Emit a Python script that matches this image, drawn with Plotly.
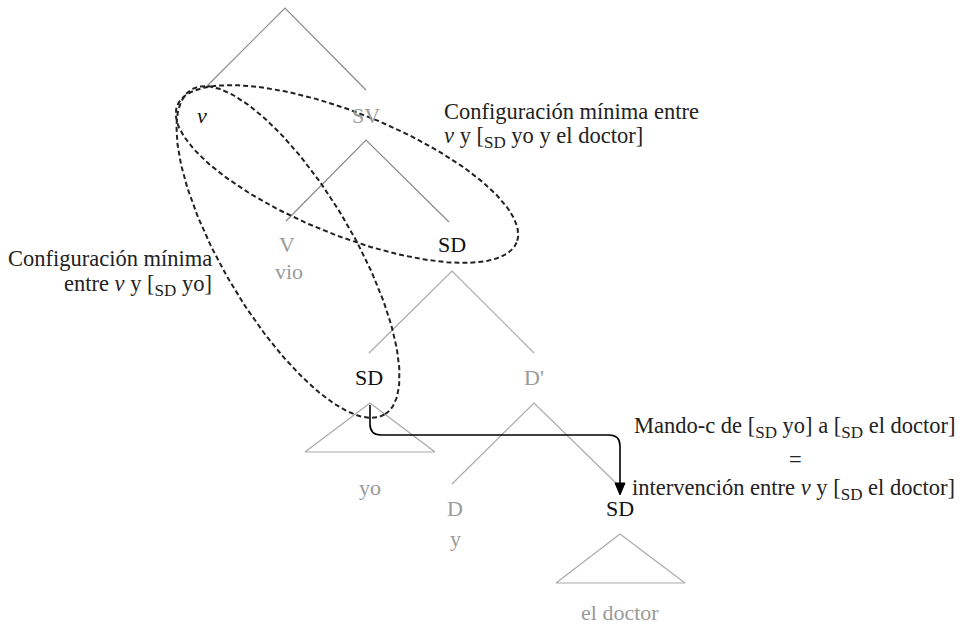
import numpy as np
import plotly.graph_objects as go

W, H = 968, 627
FONT = "Liberation Serif"
GRAY_TXT = "#9a9a9a"
BLACK = "#111111"

# ---- tree labels: text, x, y, colour-kind ----
label_text = ["<i>v</i>", "SV", "V", "vio", "SD", "SD", "D'", "yo", "D", "y", "SD", "el doctor"]
label_x = [202, 366, 287, 289, 452, 369, 534, 370, 455, 455, 620, 620]
label_y = [115, 115, 244, 271, 244, 377, 377, 487, 508, 538, 508, 612]
label_dark = [True, False, False, False, True, True, False, False, False, False, True, False]

# ---- branches: (apex, left leaf, right leaf) ----
branch_apex = [(285, 8), (366, 140), (452, 271), (534, 403)]
branch_left = [(206, 87), (286, 221), (369, 353), (452, 484)]
branch_right = [(366, 90), (449, 222), (534, 353), (617, 484)]
branch_col = ["#8a8a8a", "#8a8a8a", "#aaaaaa", "#aaaaaa"]

# ---- triangles (roofs): apex, base left, base right ----
tri_apex = [(370, 403), (620, 534)]
tri_bl = [(305, 452), (556, 583)]
tri_br = [(435, 452), (685, 583)]

# ---- dashed ellipses: centre x, centre y, semi-major, semi-minor, angle(deg) ----
ell_cx = [347, 288]
ell_cy = [174, 252]
ell_a = [183, 189]
ell_b = [61, 65]
ell_ang = [22, 59.3]

# ---- c-command arrow route ----
arrow_start = (370, 405)
arrow_corner_y = 435
arrow_end = (620, 495)

fig = go.Figure()

# branches
for ap, lf, rt, col in zip(branch_apex, branch_left, branch_right, branch_col):
    fig.add_trace(go.Scatter(x=[lf[0], ap[0], rt[0]], y=[lf[1], ap[1], rt[1]],
                             mode="lines", line=dict(color=col, width=1.2),
                             hoverinfo="skip", showlegend=False))
# triangles
for ap, bl, br in zip(tri_apex, tri_bl, tri_br):
    fig.add_trace(go.Scatter(x=[ap[0], bl[0], br[0], ap[0]], y=[ap[1], bl[1], br[1], ap[1]],
                             mode="lines", line=dict(color="#aaaaaa", width=1.2),
                             hoverinfo="skip", showlegend=False))

# ellipses
t = np.linspace(0, 2 * np.pi, 240)
for cx, cy, a, b, ang in zip(ell_cx, ell_cy, ell_a, ell_b, ell_ang):
    th = np.deg2rad(ang)
    ex = cx + a * np.cos(t) * np.cos(th) - b * np.sin(t) * np.sin(th)
    ey = cy + a * np.cos(t) * np.sin(th) + b * np.sin(t) * np.cos(th)
    fig.add_trace(go.Scatter(x=ex, y=ey, mode="lines",
                             line=dict(color="#222222", width=2, dash="5px,3px"),
                             hoverinfo="skip", showlegend=False))

# arrow (rounded corners)
r = 11
sx, sy = arrow_start
exx, eyy = arrow_end
path = (f"M {sx} {sy} L {sx} {arrow_corner_y - r} Q {sx} {arrow_corner_y} {sx + r} {arrow_corner_y} "
        f"L {exx - r} {arrow_corner_y} Q {exx} {arrow_corner_y} {exx} {arrow_corner_y + r} L {exx} {eyy - 10}")
shapes = [dict(type="path", path=path, xref="x", yref="y",
               line=dict(color="#000000", width=1.6))]
head = f"M {exx - 5} {eyy - 12} L {exx + 5} {eyy - 12} L {exx} {eyy} Z"
shapes.append(dict(type="path", path=head, xref="x", yref="y",
                   fillcolor="#000000", line=dict(color="#000000", width=1)))

annotations = []
for txt, x, y, dark in zip(label_text, label_x, label_y, label_dark):
    annotations.append(dict(x=x, y=y, text=txt, showarrow=False, xanchor="center", yanchor="middle",
                            font=dict(family=FONT, size=22, color=BLACK if dark else GRAY_TXT)))

# commentary texts
sub = '<sub><span style="font-size:17px">SD</span></sub>'
notes = [
    ("Configuración mínima entre", 442, 111, "left"),
    (f"<i>v</i> y [{sub} yo y el doctor]", 442, 137, "left"),
    ("Configuración mínima", 214, 258, "right"),
    (f"entre <i>v</i> y [{sub} yo]", 214, 285, "right"),
    (f"Mando-c de [{sub} yo] a [{sub} el doctor]", 795, 427, "center"),
    ("=", 795, 459, "center"),
    (f"intervención entre <i>v</i> y [{sub} el doctor]", 793, 489, "center"),
]
for txt, x, y, anc in notes:
    annotations.append(dict(x=x, y=y, text=txt, showarrow=False, xanchor=anc, yanchor="middle",
                            font=dict(family=FONT, size=22.5, color="#222222")))

fig.update_layout(
    width=W, height=H, margin=dict(l=0, r=0, t=0, b=0),
    paper_bgcolor="white", plot_bgcolor="white",
    xaxis=dict(range=[0, W], visible=False, fixedrange=True),
    yaxis=dict(range=[H, 0], visible=False, fixedrange=True),
    shapes=shapes, annotations=annotations, showlegend=False,
)
fig.write_html("out.html", config={"displayModeBar": False},
               post_script="document.body.style.margin='0px';document.body.style.overflow='hidden';")
